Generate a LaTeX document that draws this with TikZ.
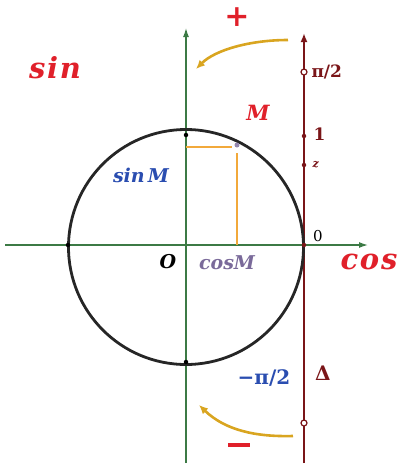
\documentclass[tikz,border=0pt]{standalone}
\usepackage{fontspec}
\newfontfamily\lblfont{DejaVu Serif}
\newfontfamily\widefont[LetterSpace=6]{DejaVu Serif}
\usetikzlibrary{arrows.meta}
\definecolor{axgreen}{HTML}{3C7A45}
\definecolor{tanred}{HTML}{7A1518}
\definecolor{orng}{HTML}{F2A93B}
\definecolor{curv}{HTML}{D9A520}
\definecolor{lblred}{HTML}{E0202A}
\definecolor{lblblue}{HTML}{2A4DB0}
\definecolor{lblpurp}{HTML}{7A6A9A}
\begin{document}
\begin{tikzpicture}[x=1pt,y=-1pt,
  axis/.style={axgreen,line width=1.3pt,-{Latex[length=9pt,width=6pt]}},
  tanline/.style={tanred,line width=2.6pt},
  proj/.style={orng,line width=2.2pt},
  curvearrow/.style={curv,line width=2.6pt,-{Latex[length=9pt,width=8pt]}},
  bigl/.style={font=\widefont\fontsize{29}{29}\selectfont\bfseries\itshape,text=lblred},
  midl/.style={font=\lblfont\fontsize{19}{19}\selectfont\bfseries\itshape},
  tick/.style={font=\lblfont\fontsize{17}{17}\selectfont\bfseries,text=tanred},
  dotmark/.style={circle,fill=tanred,inner sep=0pt,minimum size=4.5pt},
  opendot/.style={circle,draw=tanred,fill=white,line width=1.2pt,inner sep=0pt,minimum size=6pt}
]
\useasboundingbox (0,0) rectangle (402,467);
% axes
\coordinate (xs) at (5,245);
\coordinate (xe) at (368,245);
\coordinate (ys) at (186,463);
\coordinate (ye) at (186,28);
\draw[axis] (xs) -- (xe);
\draw[axis] (ys) -- (ye);
% tangent line
\coordinate (ts) at (304,463);
\coordinate (te) at (304,33);
\draw[tanline,-{Latex[length=9pt,width=7pt]}] (ts) -- (te);
% circle
\node[circle,draw=black!85,line width=2.8pt,minimum size=235pt,inner sep=0pt] (circ) at (186,247) {};
\node[circle,fill=black,inner sep=0pt,minimum size=4.5pt] (ctop) at (186,135) {};
\node[circle,fill=black,inner sep=0pt,minimum size=4.5pt] (cbot) at (186,362) {};
\node[circle,fill=black,inner sep=0pt,minimum size=4.5pt] (cleft) at (68,245) {};
% point M and projections
\node[circle,fill=lblpurp!80,inner sep=0pt,minimum size=5pt] (M) at (237,145) {};
\coordinate (sinp) at (186,147);
\coordinate (mh) at (232,147);
\coordinate (mv) at (237,153);
\coordinate (cosp) at (237,245);
\draw[proj] (sinp) -- (mh);
\draw[proj] (mv) -- (cosp);
% marks on tangent line
\node[opendot] (p2) at (304,72) {};
\node[dotmark] (one) at (304,136) {};
\node[dotmark] (xm) at (304,165) {};
\node[dotmark] (zero) at (304,245) {};
\node[opendot] (bot) at (304,423) {};
% curved arrows
\coordinate (a1s) at (288,40);
\coordinate (a1e) at (196,69);
\draw[curvearrow] (a1s) .. controls (250,40) and (215,50) .. (a1e);
\coordinate (a2s) at (293,436);
\coordinate (a2e) at (199,405);
\draw[curvearrow] (a2s) .. controls (255,437) and (225,430) .. (a2e);
% labels
\node[bigl] (lsin) at (55,68) {sin};
\node[bigl] (lcos) at (369,262) {cos};
\node[font=\lblfont\fontsize{30}{30}\selectfont\bfseries,text=lblred] (plus) at (237,17) {+};
\node[text=lblred,inner sep=0pt] (minus) at (239,445) {\rule{22pt}{3.5pt}};
\node[text=lblred,font=\lblfont\fontsize{21}{21}\selectfont\bfseries\itshape] (lM) at (258,113) {M};
\node[midl,text=lblblue] (lsinM) at (141,175) {sin\,M};
\node[midl,text=black] (lO) at (168,262) {O};
\node[midl,text=lblpurp] (lcosM) at (227,263) {cosM};
\node[font=\lblfont\fontsize{15}{15}\selectfont,text=black] (l0) at (318,236) {0};
\node[tick,anchor=west] (lp2) at (308,72) {π/2};
\node[tick,anchor=west] (l1) at (310,134) {1};
\node[tick,anchor=west,font=\lblfont\fontsize{11}{11}\selectfont\bfseries\itshape] (lx) at (309,165) {z};
\node[font=\lblfont\fontsize{20}{20}\selectfont\bfseries,text=lblblue] (lmp2) at (264,378) {−π/2};
\node[tick,font=\lblfont\fontsize{20}{20}\selectfont\bfseries] (ldelta) at (323,373) {Δ};
\end{tikzpicture}
\end{document}
